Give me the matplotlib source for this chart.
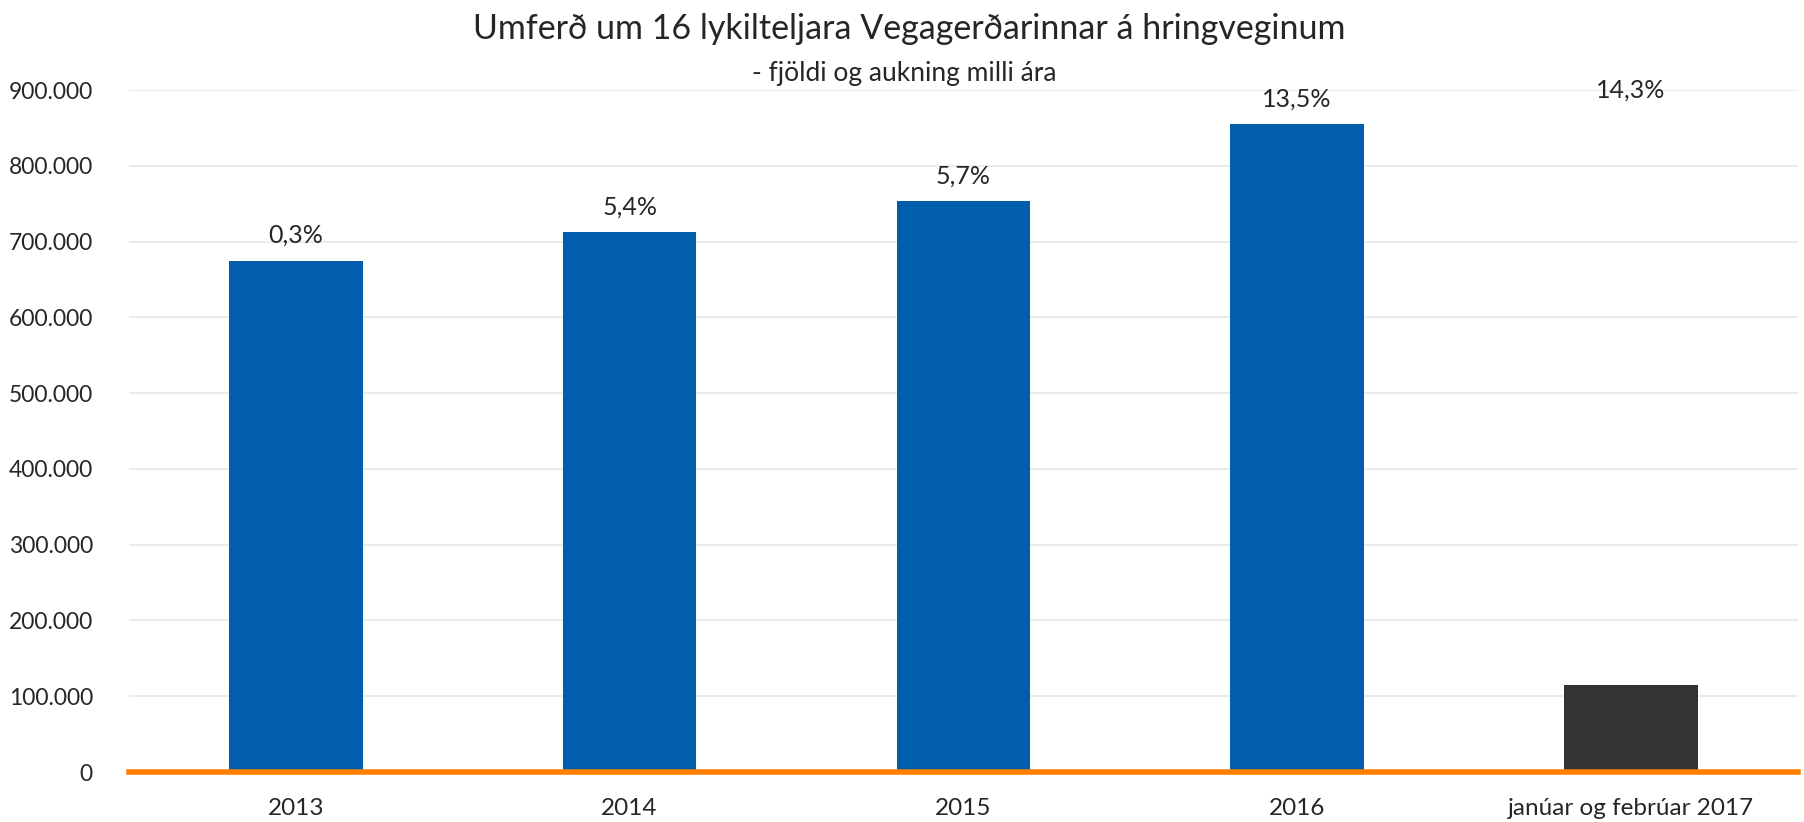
import numpy as np
from matplotlib import pyplot as plt
from matplotlib.ticker import FuncFormatter

# gögn lesin af myndinni
flokkar = ['2013', '2014', '2015', '2016', 'janúar og febrúar 2017']
fjoldi = [675000, 712000, 753000, 855000, 115000]
aukning = ['0,3%', '5,4%', '5,7%', '13,5%', '14,3%']
merki_hæð = [675000, 712000, 753000, 855000, 866000]
litir = ['#005EAC', '#005EAC', '#005EAC', '#005EAC', '#333333']

plt.rcParams['font.family'] = ['Lato', 'DejaVu Sans']

fig = plt.figure(figsize=(18.04, 8.22), dpi=100)
ax = fig.add_axes([0.0715, 0.0608, 0.925, 0.8297])

x = np.arange(len(flokkar))
ax.bar(x, fjoldi, width=0.4, color=litir, zorder=3)

for xi, h, t in zip(x, merki_hæð, aukning):
    ax.annotate(t, (xi, h), xytext=(0, 10), textcoords='offset points',
                ha='center', va='bottom', fontsize=18, color='#262626',
                annotation_clip=False)

ax.set_xlim(-0.5, len(flokkar) - 0.5)
ax.set_ylim(0, 900000)
ax.set_yticks(np.arange(0, 900001, 100000))
ax.yaxis.set_major_formatter(FuncFormatter(lambda v, p: f'{int(v):,}'.replace(',', '.')))
ax.set_xticks(x)
ax.set_xticklabels(flokkar)
ax.tick_params(axis='both', length=0, colors='#262626')
ax.tick_params(axis='x', labelsize=17.5, pad=19)
ax.tick_params(axis='y', labelsize=16.5, pad=26)
ax.grid(axis='y', color='#EBEBEB', linewidth=1.5, zorder=0)
for s in ['top', 'right', 'left']:
    ax.spines[s].set_visible(False)
ax.spines['bottom'].set_color('#FF7F00')
ax.spines['bottom'].set_linewidth(4)
ax.spines['bottom'].set_zorder(4)

fig.text(0.504, 0.965, 'Umferð um 16 lykilteljara Vegagerðarinnar á hringveginum',
         ha='center', va='center', fontsize=24.5, color='#262626')
fig.text(0.501, 0.91, '- fjöldi og aukning milli ára',
         ha='center', va='center', fontsize=19, color='#262626')

plt.savefig('out.png', dpi=100)
